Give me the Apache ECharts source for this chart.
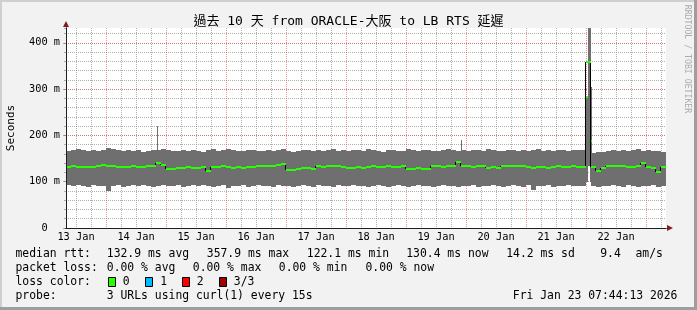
<!DOCTYPE html>
<html><head><meta charset="utf-8">
<script src="https://cdn.jsdelivr.net/npm/echarts@6/dist/echarts.min.js"></script>
<style>html,body{margin:0;padding:0;background:#f2f2f2}#c{width:697px;height:310px}</style>
</head><body><div id="c"></div>
<script>
// ---------- data ----------
const titleText = '過去 10 天 from ORACLE-大阪 to LB RTS 延遲';
const dayLabels = ['13 Jan','14 Jan','15 Jan','16 Jan','17 Jan','18 Jan','19 Jan','20 Jan','21 Jan','22 Jan'];
const labelDays = [13,14,15,16,17,18,19,20,21,22];
const yTickValues = [0,100,200,300,400];
const yTickLabels = ['0  ','100 m','200 m','300 m','400 m'];
const yMaxMs = 432;
const startHourOfDay = 8;         // chart starts Jan 13 08:00, spans 240 h
const spanHours = 240;
const binHours = 2;               // each value below covers 2 hours
const bandTop = [
 167,169,171,168,167,169,166,168,172,170,
 168,166,169,167,168,165,167,169,168,170,
 168,166,167,169,166,168,167,165,168,170,
 167,169,171,168,166,167,169,168,166,167,
 169,167,168,170,166,165,167,168,169,166,
 168,167,169,170,167,168,166,169,168,167,
 171,168,167,165,168,169,167,166,170,168,
 167,169,168,166,167,168,170,169,167,168,
 166,168,169,167,170,168,166,167,169,168,
 167,169,166,168,170,167,168,166,169,168,
 167,169,168,168,null,162,164,165,166,168,
 167,168,166,169,170,167,168,166,167,165
];
const bandBottom = [
 92,90,93,91,89,92,90,91,81,90,
 92,89,91,93,90,92,91,89,90,92,
 91,90,92,89,91,93,90,92,91,89,
 90,92,86,91,90,92,89,91,93,90,
 91,89,92,90,91,88,90,92,91,89,
 92,90,91,89,92,90,91,93,90,91,
 89,91,92,90,88,91,92,90,89,91,
 92,90,91,89,90,92,91,90,89,91,
 90,92,89,91,90,92,91,89,90,92,
 91,89,92,83,90,91,92,89,91,90,
 92,90,91,90,null,90,88,91,90,92,
 91,89,92,90,88,91,90,92,89,90
];
const median = [
 132,133,132,131,131,132,135,136,133,133,
 132,131,132,133,132,131,134,134,140,137,
 128,127,129,130,131,130,129,131,124,131,
 132,133,131,130,131,130,132,131,134,135,
 134,135,136,138,126,125,127,129,130,128,
 133,132,133,134,133,132,130,129,131,130,
 132,133,132,131,133,132,131,133,128,127,
 129,128,127,133,134,132,133,134,143,135,
 133,132,134,133,130,131,129,134,135,133,
 134,135,131,130,132,131,130,132,133,131,
 132,133,131,132,358,131,124,130,134,135,
 133,134,132,131,133,140,131,130,121,131
];
// narrow spikes (hours after chart start)
const spikeStartH = [36.4, 158.0, 208.0, 208.8, 209.6];
const spikeEndH   = [36.8, 158.4, 208.8, 210.0, 210.4];
const spikeLow    = [165, 165, 99, 135, 99];
const spikeHigh   = [221, 191, 283, 432, 304];
const spikeMed    = [null, null, 283, null, 189];

const lossLabels = ['0','1','2','3/3'];
const lossColors = ['#26ff00','#00b8ff','#ff0000','#a10000'];
const statLine1 = ['median rtt:','132.9 ms avg','357.9 ms max','122.1 ms min','130.4 ms now','14.2 ms sd','9.4','am/s'];
const statLine2 = ['packet loss:','0.00 % avg','0.00 % max','0.00 % min','0.00 % now'];
const probeLine = ['probe:','3 URLs using curl(1) every 15s'];
const stampText = 'Fri Jan 23 07:44:13 2026';
const lossTitle = 'loss color:';
const yName = 'Seconds';
const watermark = 'RRDTOOL / TOBI OETIKER';

// ---------- styles ----------
const MONO = "'DejaVu Sans Mono', 'Noto Sans CJK TC', monospace";
const SMOKE = '#6f6f6f';
const GRIDC = 'rgba(143,143,143,0.7)';
const MGRIDC = 'rgba(222,79,79,0.6)';
const AXISC = '#1f1f1f';
const ARROWC = '#801f1f';

const bandData = bandTop.map((v,i)=>[i*binHours, (i+1)*binHours, bandBottom[i], v]);
const medData = median.map((v,i)=>[i*binHours, (i+1)*binHours, v, i+1<median.length?median[i+1]:null]);
const spikeData = spikeStartH.map((s,i)=>[s, spikeEndH[i], spikeLow[i], spikeHigh[i], spikeMed[i]]);
const minorGrid = [], majorGrid = [];
for (let h = 1; h < spanHours; h++) {
  const hod = (startHourOfDay + h) % 24;
  if (hod === 0) majorGrid.push([h, 0]);
  else if (hod % 6 === 0) minorGrid.push([h, 0]);
}
const labelValues = labelDays.map(d => (d - 13) * 24 + 12 - startHourOfDay);

function bandItem(params, api) {
  const lo = api.value(2), hi = api.value(3);
  if (isNaN(lo) || isNaN(hi)) return null;
  const p0 = api.coord([api.value(0), hi]);
  const p1 = api.coord([api.value(1), lo]);
  const x0 = Math.round(p0[0]), x1 = Math.round(p1[0]);
  const y0 = Math.round(p0[1]), y1 = Math.round(p1[1]);
  return {type:'rect', shape:{x:x0,y:y0,width:Math.max(1,x1-x0),height:y1-y0}, style:{fill:SMOKE}};
}
function spikeItem(params, api) {
  const lo = api.value(2), hi = api.value(3), md = api.value(4);
  const p0 = api.coord([api.value(0), hi]);
  const p1 = api.coord([api.value(1), lo]);
  const x0 = Math.round(p0[0]), x1 = Math.round(p1[0]);
  const y0 = Math.round(p0[1]), y1 = Math.round(p1[1]);
  const children = [{type:'rect', shape:{x:x0,y:y0,width:Math.max(1,x1-x0),height:y1-y0}, style:{fill:SMOKE}}];
  if (!isNaN(md)) {
    const pm = api.coord([api.value(0), md]);
    children.push({type:'rect', shape:{x:x0,y:Math.round(pm[1])-1,width:2,height:2}, style:{fill:lossColors[0]}});
  }
  return {type:'group', children};
}
function medItem(params, api) {
  const v = api.value(2), nv = api.value(3);
  if (isNaN(v)) return null;
  const p0 = api.coord([api.value(0), v]);
  const p1 = api.coord([api.value(1), v]);
  const x0 = Math.round(p0[0]), x1 = Math.round(p1[0]);
  const y = Math.round(p0[1]);
  const children = [];
  if (!isNaN(nv) && nv !== v) {
    const yn = Math.round(api.coord([api.value(1), nv])[1]);
    children.push({type:'line', shape:{x1:x1-0.5,y1:y,x2:x1-0.5,y2:yn}, style:{stroke:'#000',lineWidth:1}});
  }
  children.push({type:'rect', shape:{x:x0,y:y-1,width:x1-x0,height:2}, style:{fill:lossColors[0]}});
  return {type:'group', children};
}
function makeGridItem(color) {
  return function(params, api) {
    const cs = params.coordSys;
    const x = Math.floor(api.coord([api.value(0), 0])[0]) + 0.5;
    return {type:'line', shape:{x1:x,y1:cs.y,x2:x,y2:cs.y+cs.height},
      style:{stroke:color, fill:null, lineWidth:1, lineDash:[1,1]}};
  };
}

// ---------- graphics (texts, border) ----------
const g = [];
function txt(x, y, text, size) {
  g.push({type:'text', x, y, silent:true,
    style:{text, fontSize:size, fontFamily:MONO, fill:'#000', align:'left', verticalAlign:'middle'}});
}
g.push({type:'rect', shape:{x:0,y:0,width:697,height:2}, style:{fill:'#cfcfcf'}, silent:true});
g.push({type:'rect', shape:{x:0,y:0,width:2,height:310}, style:{fill:'#cfcfcf'}, silent:true});
g.push({type:'rect', shape:{x:0,y:307,width:697,height:3}, style:{fill:'#9e9e9e'}, silent:true});
g.push({type:'rect', shape:{x:694,y:0,width:3,height:310}, style:{fill:'#9e9e9e'}, silent:true});
g.push({type:'text', x:348.5, y:21.5, silent:true, style:{text:titleText, fontSize:13, fontFamily:MONO, fill:'#000', align:'center', verticalAlign:'middle'}});
g.push({type:'text', x:11, y:128, rotation:Math.PI/2, silent:true, style:{text:yName, fontSize:11, fontFamily:MONO, fill:'#000', align:'center', verticalAlign:'middle'}});
g.push({type:'text', x:687.5, y:59, rotation:-Math.PI/2, silent:true, style:{text:watermark, fontSize:8.2, fontFamily:MONO, fill:'#ababab', align:'center', verticalAlign:'middle'}});
const FS = 11.4;
const l1x = [15.5,106.8,206.8,306.8,406.2,506.2,600.2,635.5];
statLine1.forEach((s,i)=>txt(l1x[i], 254.5, s, FS));
const l2x = [15.5,106.8,192.8,278.8,365.5];
statLine2.forEach((s,i)=>txt(l2x[i], 268.3, s, FS));
txt(15.5, 282, lossTitle, FS);
const boxX = [108.5,145.5,182.5,219.5];
const lblX = [122.8,160.2,196.8,233.8];
lossLabels.forEach((s,i)=>{
  g.push({type:'rect', silent:true, shape:{x:boxX[i], y:277.5, width:7, height:9}, style:{fill:lossColors[i], stroke:'#000', lineWidth:1}});
  txt(lblX[i], 282, s, FS);
});
txt(15.5, 296.3, probeLine[0], FS);
txt(106.8, 296.3, probeLine[1], FS);
txt(512.8, 296.3, stampText, FS);

// ---------- chart ----------
const chart = echarts.init(document.getElementById('c'), null, {renderer:'canvas'});
const fmtY = v => { const k = yTickValues.indexOf(v); return k >= 0 ? yTickLabels[k] : ''; };
const hidden = {axisTick:{show:false}, axisLabel:{show:false}, splitLine:{show:false}};
chart.setOption({
  animation:false,
  backgroundColor:'#f2f2f2',
  grid:{left:66, right:31, top:28, bottom:82, show:true, backgroundColor:'#ffffff', borderWidth:0},
  xAxis:[
    {type:'value', position:'bottom', min:0, max:spanHours, z:0,
     axisLine:{show:false}, axisTick:{show:false}, splitLine:{show:false},
     axisLabel:{customValues:labelValues, formatter:(v)=>{const k=labelValues.indexOf(v); return k>=0?dayLabels[k]:'';},
       fontSize:10.3, fontFamily:MONO, color:'#000', margin:4}},
    Object.assign({type:'value', position:'bottom', min:0, max:spanHours, z:5,
      axisLine:{show:true, onZero:false, lineStyle:{color:ARROWC,width:1}, symbol:['none','triangle'], symbolSize:[6,6], symbolOffset:[0,4]}}, hidden),
    Object.assign({type:'value', position:'bottom', min:0, max:spanHours, z:6,
      axisLine:{show:true, onZero:false, lineStyle:{color:AXISC,width:1}}}, hidden)
  ],
  yAxis:[
    {type:'value', position:'left', min:0, max:yMaxMs, interval:100, z:1,
     axisLine:{show:false}, axisTick:{show:true, length:3, lineStyle:{color:MGRIDC}},
     axisLabel:{formatter:fmtY, fontSize:10.3, fontFamily:MONO, color:'#000', margin:6, showMaxLabel:false},
     splitLine:{show:true, showMinLine:false, showMaxLine:false, lineStyle:{color:MGRIDC, type:[1,1], width:1}}},
    {type:'value', position:'left', min:0, max:yMaxMs, interval:20, z:0,
     axisLine:{show:false}, axisTick:{show:true, length:2, lineStyle:{color:GRIDC}}, axisLabel:{show:false},
     splitLine:{show:true, showMinLine:false, showMaxLine:false, lineStyle:{color:GRIDC, type:[1,1], width:1}}},
    Object.assign({type:'value', position:'left', min:0, max:yMaxMs, z:5,
      axisLine:{show:true, onZero:false, lineStyle:{color:ARROWC,width:1}, symbol:['none','triangle'], symbolSize:[6,6], symbolOffset:[0,4]}}, hidden),
    Object.assign({type:'value', position:'left', min:0, max:yMaxMs, z:6,
      axisLine:{show:true, onZero:false, lineStyle:{color:AXISC,width:1}}}, hidden)
  ],
  series:[
    {type:'custom', name:'minorGrid', xAxisIndex:0, yAxisIndex:0, z:1, silent:true, data:minorGrid, renderItem:makeGridItem(GRIDC), encode:{x:0, y:1}},
    {type:'custom', name:'majorGrid', xAxisIndex:0, yAxisIndex:0, z:1, silent:true, data:majorGrid, renderItem:makeGridItem(MGRIDC), encode:{x:0, y:1}},
    {type:'custom', name:'smoke', xAxisIndex:0, yAxisIndex:0, z:2, silent:true, data:bandData, renderItem:bandItem, encode:{x:[0,1], y:[2,3]}},
    {type:'custom', name:'spikes', xAxisIndex:0, yAxisIndex:0, z:2, silent:true, data:spikeData, renderItem:spikeItem, encode:{x:[0,1], y:[2,3]}},
    {type:'custom', name:'median', xAxisIndex:0, yAxisIndex:0, z:3, silent:true, data:medData, renderItem:medItem, encode:{x:[0,1], y:[2]}}
  ],
  graphic:g
});
</script>
</body></html>
